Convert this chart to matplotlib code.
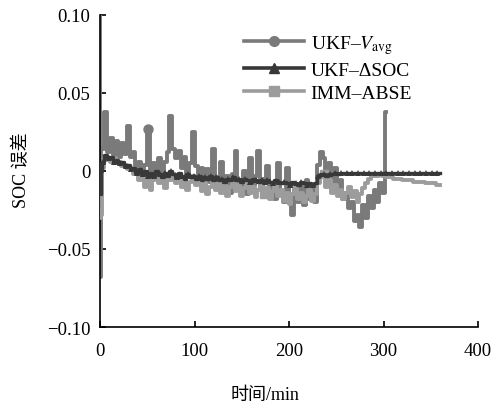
import matplotlib
matplotlib.use("Agg")
import matplotlib.pyplot as plt
from matplotlib.lines import Line2D
import numpy as np

plt.rcParams['font.family'] = ['Liberation Serif', 'Noto Sans CJK SC']
plt.rcParams['mathtext.fontset'] = 'stix'

# SOC error values, in units of 1e-3
# first three samples are the start-up transient at t = 0, 0.7, 1.5 min,
# then one sample every 3 min
t_head = [0, 0.7, 1.5]
step_min = 3

vavg_head = [100, -68, 15]
vavg_err = [14, 38, 12, 21, 10, 19, 9, 18, 11, 29,
            9, 12, 3, 6, -3, 4, 27, -2, 5, -5,
            8, -3, 6, 12, 35, 14, 8, 13, 2, 9,
            -4, 5, 25, 3, -6, 2, -9, 1, -7, 14,
            -4, -10, 6, -12, -3, -14, -2, 13, -8, -13,
            0, -15, 8, -9, -3, 13, -12, -5, 3, -15,
            -8, -18, 5, -14, -20, 2, -17, -28, -12, -20,
            -10, -22, -6, -18, -9, -20, 4, 12, 8, -4,
            5, -8, 2, -12, -6, -18, -14, -24, -20, -32,
            -28, -36, -22, -30, -16, -24, -12, -20, -8, -14,
            38]

dsoc_head = [5, -15, 0]
dsoc_err = [6, 10, 8, 9, 6, 7, 5, 6, 3, 4,
            1, 2, -1, 1, -2, 0, -3, -1, -3, 0,
            -2, -4, -1, -3, 0, -2, -4, -1, -3, -5,
            -2, -4, -3, -5, -3, -6, -4, -5, -3, -6,
            -4, -6, -5, -7, -5, -6, -4, -6, -5, -7,
            -5, -6, -7, -5, -6, -7, -6, -8, -6, -7,
            -8, -6, -7, -8, -7, -8, -9, -7, -8, -9,
            -7, -8, -9, -8, -9, -8, -3, -2, -2, -3,
            -2, -2, -1, -2, -1, -1, -1, -1, -1, -1,
            -1, -1, -1, -1, -1, -1, -1, -1, -1, -1,
            -1, -1, -1, -1, -1, -1, -1, -1, -1, -1,
            -1, -1, -1, -1, -1, -1, -1, -1, -1, -1]

imm_head = [-25, -30, -28]
imm_err = [2, 8, 7, 6, 8, 5, 6, 3, 4, 1,
           2, -2, -1, -6, -3, -10, -4, -12, -6, -3,
           -8, -5, -11, -2, -6, -2, -8, -4, -10, -5,
           -12, -7, -3, -9, -6, -13, -8, -15, -10, -5,
           -12, -8, -14, -9, -16, -10, -7, -13, -9, -16,
           -11, -8, -14, -10, -17, -12, -8, -15, -11, -18,
           -13, -9, -16, -12, -19, -14, -21, -15, -11, -18,
           -14, -20, -16, -12, -19, -15, -8, -4, -2, -10,
           -6, -14, -9, -16, -12, -18, -14, -10, -17, -13,
           -20, -15, -11, -8, -5, -3, -2, -3, -2, -3,
           -4, -4, -4, -5, -5, -5, -6, -6, -6, -6,
           -7, -7, -7, -7, -8, -8, -8, -8, -9, -9]

x_ticks = [0, 100, 200, 300, 400]
y_ticks = [-0.10, -0.05, 0, 0.05, 0.10]
y_tick_labels = ['\u22120.10', '\u22120.05', '0', '0.05', '0.10']


def series(head_t, head_v, vals):
    t = np.concatenate([head_t, step_min * np.arange(1, len(vals) + 1)])
    v = np.concatenate([head_v, vals]) / 1000.0
    return t, v


c_vavg = '#7a7a7a'
c_dsoc = '#383838'
c_imm = '#9c9c9c'

fig = plt.figure(figsize=(5, 4.06), dpi=100)
ax = fig.add_axes([0.2, 0.192, 0.756, 0.769])

t1, v1 = series(t_head, vavg_head, vavg_err)
t2, v2 = series(t_head, dsoc_head, dsoc_err)
t3, v3 = series(t_head, imm_head, imm_err)

ax.plot(t1, v1, color=c_vavg, lw=2.8, drawstyle='steps-mid', zorder=2)
ax.plot(t1[19], v1[19], 'o', color=c_vavg, ms=6.5, zorder=2)
ax.plot(t3, v3, color=c_imm, lw=2.8, drawstyle='steps-mid', zorder=3)
ax.plot(t3[[19, 60, 81]], v3[[19, 60, 81]], 's', color=c_imm, ms=5.5, zorder=3)
ax.plot(t2, v2, color=c_dsoc, lw=2.4, drawstyle='steps-mid', zorder=4)
ax.plot(t2[3::2], v2[3::2], '^', color=c_dsoc, ms=5, mew=0, zorder=4)

ax.set_xlim(0, 400)
ax.set_ylim(-0.10, 0.10)
ax.set_xticks(x_ticks)
ax.set_yticks(y_ticks)
ax.set_yticklabels(y_tick_labels)
ax.spines['top'].set_visible(False)
ax.spines['right'].set_visible(False)
for s in ['left', 'bottom']:
    ax.spines[s].set_linewidth(1.2)
ax.tick_params(direction='in', length=4, width=1.2, labelsize=13.5)
ax.tick_params(axis='x', pad=11)
ax.tick_params(axis='y', pad=7)

ax.set_xlabel('时间/min', fontsize=13)
ax.set_ylabel('SOC 误差', fontsize=13)
ax.xaxis.set_label_coords(0.437, -0.19)
ax.yaxis.set_label_coords(-0.185, 0.506)

handles = [
    Line2D([], [], color=c_vavg, lw=2.6, marker='o', ms=7),
    Line2D([], [], color=c_dsoc, lw=2.6, marker='^', ms=7),
    Line2D([], [], color=c_imm, lw=2.6, marker='s', ms=7),
]
labels = ['UKF\u2013$\\mathit{V}_{\\mathrm{avg}}$', 'UKF\u2013\u0394SOC', 'IMM\u2013ABSE']
ax.legend(handles, labels, loc='upper left', bbox_to_anchor=(0.38, 0.942),
          frameon=False, fontsize=14, handlelength=3.1, handletextpad=0.35,
          labelspacing=0.28, borderpad=0, borderaxespad=0)

fig.savefig('out.png', dpi=100)
